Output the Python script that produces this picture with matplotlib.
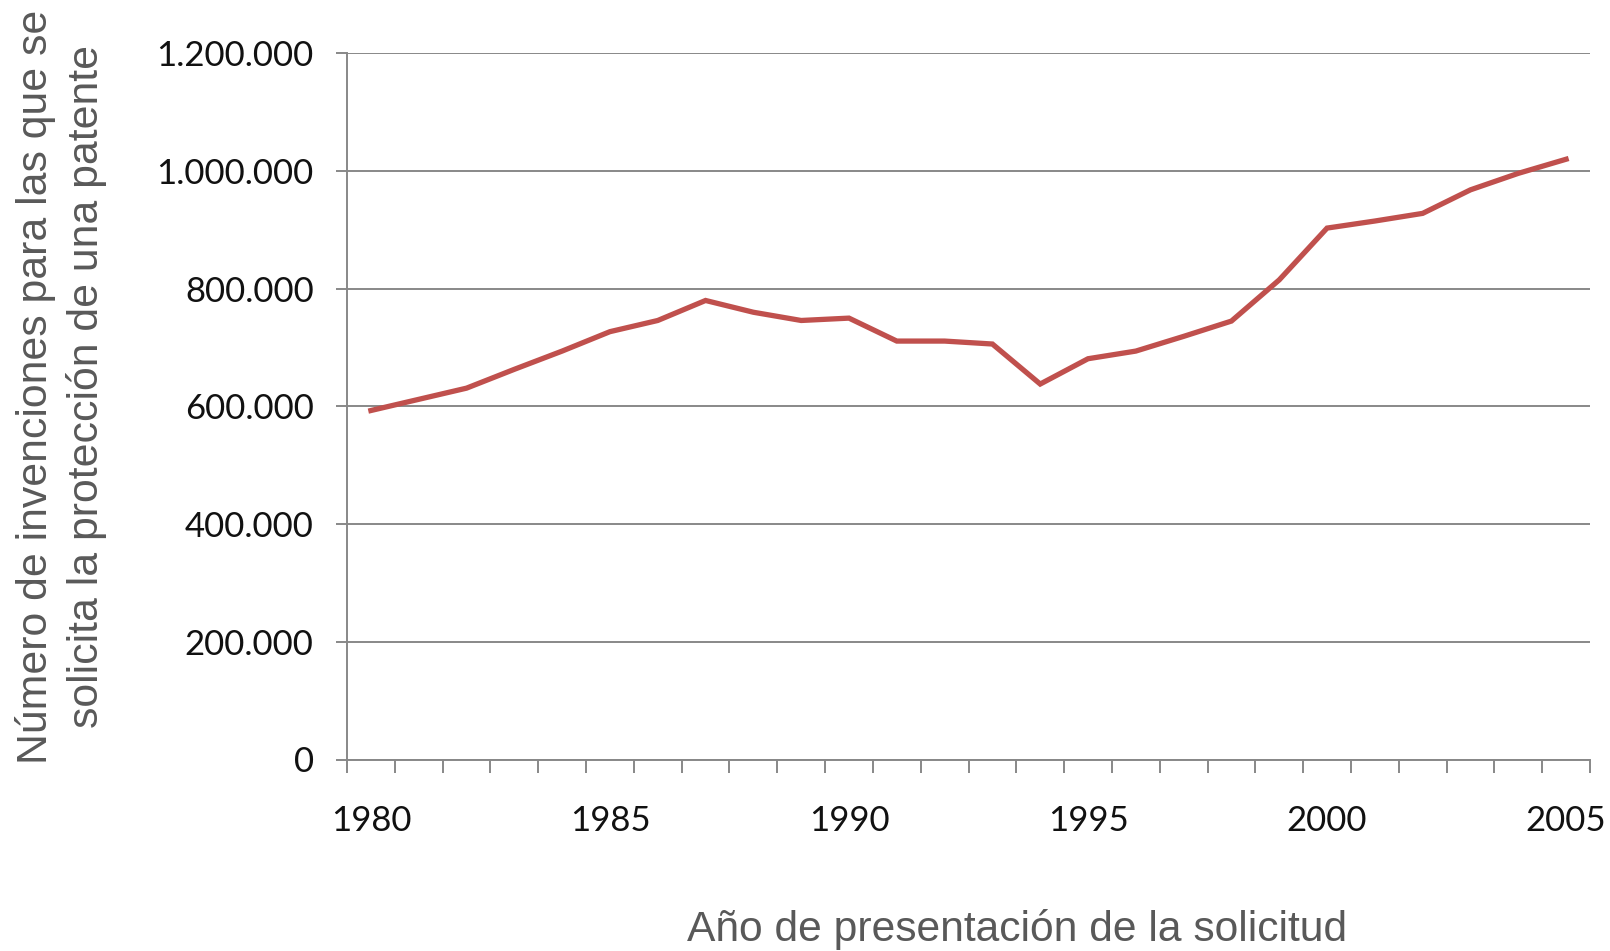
import matplotlib
matplotlib.use("Agg")
import matplotlib.pyplot as plt
from matplotlib.ticker import FuncFormatter, FixedLocator

years = list(range(1980, 2006))
solicitudes = [593000, 612000, 631000, 663000, 694000, 727000, 746000, 780000,
               760000, 746000, 750000, 711000, 711000, 706000, 638000, 681000,
               694000, 719000, 745000, 815000, 903000, 915000, 928000, 968000,
               996000, 1020000]
y_ticks = [0, 200000, 400000, 600000, 800000, 1000000, 1200000]
x_label_years = [1980, 1985, 1990, 1995, 2000, 2005]

grid_col = "#888888"
line_col = "#C0504D"

fig = plt.figure(figsize=(16.10, 9.51), dpi=100)
ax = fig.add_axes([347/1610, 1-759.5/951, (1590-347)/1610, (759.5-53.3)/951])

idx = list(range(len(years)))
ax.plot(idx, solicitudes, color=line_col, lw=3.8, solid_joinstyle="miter", zorder=3)

ax.set_xlim(-0.5, len(years)-0.5)
ax.set_ylim(0, 1200000)

ax.set_yticks(y_ticks)
ax.yaxis.set_major_formatter(FuncFormatter(lambda v, p: f"{int(v):,}".replace(",", ".")))
ax.grid(axis="y", color=grid_col, lw=1.4, zorder=1)

lab_pos = [years.index(y) for y in x_label_years]
ax.set_xticks(lab_pos)
ax.set_xticklabels([str(y) for y in x_label_years])
ax.xaxis.set_minor_locator(FixedLocator([i - 0.5 for i in range(len(years)+1)]))
ax.tick_params(axis="x", which="major", length=0, pad=33, labelsize=25, labelcolor="#111111")
ax.tick_params(axis="x", which="minor", length=9, width=1.4, color=grid_col, direction="out")
ax.tick_params(axis="y", which="major", length=8, width=1.4, color=grid_col, pad=16,
               labelsize=25, labelcolor="#111111")
for lab in ax.get_xticklabels() + ax.get_yticklabels():
    lab.set_fontfamily("Lato")

for s in ["top", "right"]:
    ax.spines[s].set_visible(False)
for s in ["left", "bottom"]:
    ax.spines[s].set_color(grid_col)
    ax.spines[s].set_linewidth(1.4)

title_col = "#595959"
fig.text(1017/1610, 1-929/951, "Año de presentación de la solicitud", ha="center", va="center",
         fontsize=30.7, color=title_col, family="Liberation Sans")
fig.text(61/1610, 1-387/951, "Número de invenciones para las que se\nsolicita la protección de una patente",
         ha="center", va="center", rotation=90, fontsize=30.8, color=title_col,
         family="Liberation Sans", linespacing=1.3, multialignment="center")

fig.savefig("out.png", dpi=100)
